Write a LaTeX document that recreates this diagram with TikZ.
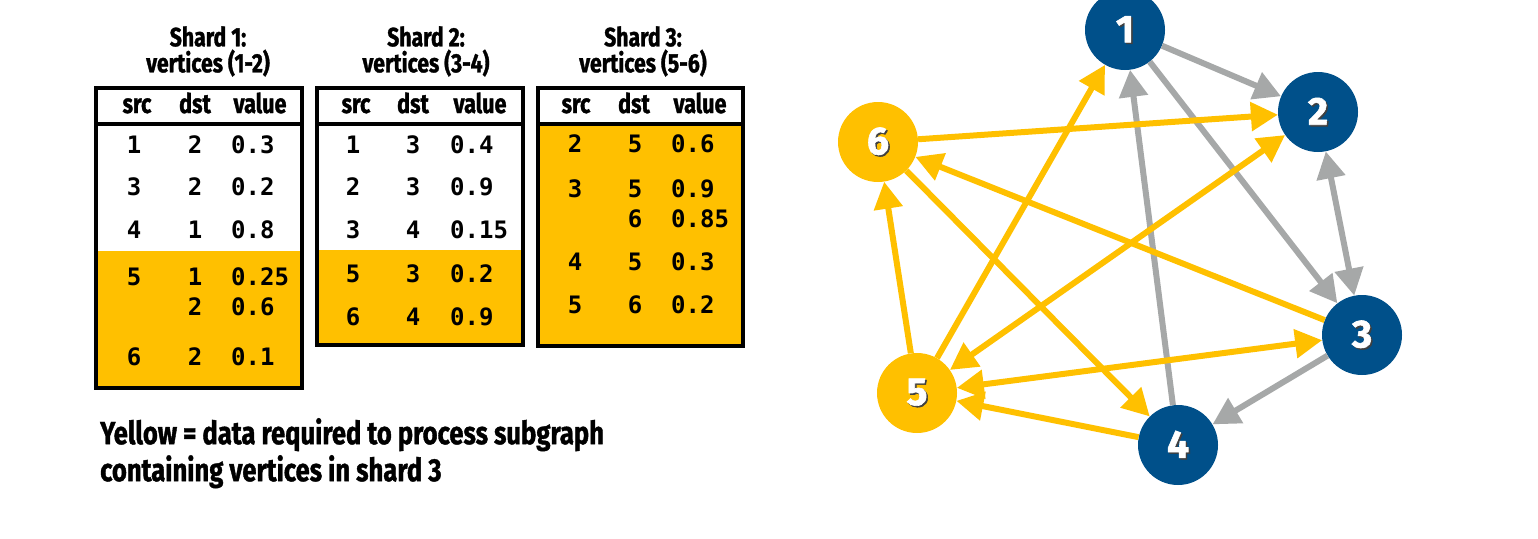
\documentclass[tikz,border=0pt]{standalone}
\usepackage{fontspec}
\setsansfont[FakeStretch=0.8, BoldFeatures={FakeBold=1.2}]{Fira Sans}
\setmonofont{DejaVu Sans Mono}
\newfontfamily\vtxfam[BoldFeatures={FakeBold=1.5}]{Fira Sans}
\usetikzlibrary{arrows.meta}
\definecolor{Vblue}{RGB}{0,80,138}
\definecolor{Vyellow}{RGB}{255,192,0}
\definecolor{Vgray}{RGB}{166,168,168}
% white vertex number with a small drop shadow
\newcommand\shnum[1]{\makebox[0pt][l]{\hspace{1.5pt}\raisebox{-1.5pt}{\textcolor{black!75}{#1}}}#1}

\begin{document}
\begin{tikzpicture}[x=1pt, y=-1pt,
  tbox/.style ={draw=black, line width=4pt},
  ttl/.style  ={anchor=north, inner sep=0, align=center,
                font=\sffamily\bfseries\fontsize{26.5}{26}\selectfont},
  hdr/.style  ={anchor=base, inner sep=0,
                font=\sffamily\bfseries\fontsize{27}{27}\selectfont},
  cell/.style ={anchor=base, inner sep=0,
                font=\ttfamily\bfseries\fontsize{24}{24}\selectfont},
  vcell/.style={cell, anchor=base west},
  vtx/.style  ={circle, minimum size=80pt, inner sep=0,
                text=white, font=\vtxfam\bfseries\fontsize{39}{39}\selectfont},
  bv/.style   ={vtx, fill=Vblue},
  yv/.style   ={vtx, fill=Vyellow},
  garr/.style ={-{Triangle[length=27pt, width=28pt]}, line width=6pt, draw=Vgray},
  yarr/.style ={-{Triangle[length=27pt, width=28pt]}, line width=6pt, draw=Vyellow},
]
\useasboundingbox (0,0) rectangle (1538,538);

%% === Shard 1 ===
\fill[Vyellow] (96,251) rectangle (302,388);
\draw[tbox] (96,88) rectangle (302,388);
\draw[tbox] (96,124) -- (302,124);
\node[ttl] (T1) at (208,26) {Shard 1:\\vertices (1-2)};
\node[hdr] (H1s) at (137,113) {src};
\node[hdr] (H1d) at (195,113) {dst};
\node[hdr] (H1v) at (260,113) {value};
\foreach \y/\s/\d/\v [count=\i] in {153/1/2/0.3, 195/3/2/0.2, 238/4/1/0.8,
                                    285/5/1/0.25, 315//2/0.6, 365/6/2/0.1}{
  \node[cell]  (A\i s) at (134,\y) {\s};
  \node[cell]  (A\i d) at (195,\y) {\d};
  \node[vcell] (A\i v) at (231,\y) {\v};
}

%% === Shard 2 ===
\fill[Vyellow] (317,250) rectangle (523,345);
\draw[tbox] (317,88) rectangle (523,345);
\draw[tbox] (317,124) -- (523,124);
\node[ttl] (T2) at (426,26) {Shard 2:\\vertices (3-4)};
\node[hdr] (H2s) at (356,113) {src};
\node[hdr] (H2d) at (413,113) {dst};
\node[hdr] (H2v) at (480,113) {value};
\foreach \y/\s/\d/\v [count=\i] in {153/1/3/0.4, 195/2/3/0.9, 238/3/4/0.15,
                                    282/5/3/0.2, 325/6/4/0.9}{
  \node[cell]  (B\i s) at (353,\y) {\s};
  \node[cell]  (B\i d) at (413,\y) {\d};
  \node[vcell] (B\i v) at (450,\y) {\v};
}

%% === Shard 3 ===
\fill[Vyellow] (538,124) rectangle (743,346);
\draw[tbox] (538,88) rectangle (743,346);
\draw[tbox] (538,124) -- (743,124);
\node[ttl] (T3) at (643,26) {Shard 3:\\vertices (5-6)};
\node[hdr] (H3s) at (576,113) {src};
\node[hdr] (H3d) at (634,113) {dst};
\node[hdr] (H3v) at (700,113) {value};
\foreach \y/\s/\d/\v [count=\i] in {152/2/5/0.6, 197/3/5/0.9, 227//6/0.85,
                                    270/4/5/0.3, 313/5/6/0.2}{
  \node[cell]  (C\i s) at (575,\y) {\s};
  \node[cell]  (C\i d) at (635,\y) {\d};
  \node[vcell] (C\i v) at (671,\y) {\v};
}

% Leyenda
\node[anchor=north west, inner sep=0, align=left,
      font=\sffamily\bfseries\fontsize{32}{37}\selectfont]
  (cap) at (100,418) {Yellow = data required to process subgraph\\containing vertices in shard 3};

%% === Grafo ===
\node[bv] (v1) at (1125,30)  {\shnum{1}};
\node[bv] (v2) at (1318,112) {\shnum{2}};
\node[bv] (v3) at (1362,335) {\shnum{3}};
\node[bv] (v4) at (1178,445) {\shnum{4}};
\node[yv] (v5) at (917,393)  {\shnum{5}};
\node[yv] (v6) at (878,142)  {\shnum{6}};

\draw[garr] (v1) -- (v2);
\draw[garr] (v1) -- (v3);
\draw[garr] (v4) -- (v1);
\draw[garr] (v3) -- (v4);
\draw[garr, {Triangle[length=27pt, width=28pt]}-{Triangle[length=27pt, width=28pt]}] (v2) -- (v3);

\draw[yarr] (v5) -- (v1);
\draw[yarr] (v6) -- (v2);
\draw[yarr, {Triangle[length=27pt, width=28pt]}-{Triangle[length=27pt, width=28pt]}] (v5) -- (v2);
\draw[yarr, {Triangle[length=27pt, width=28pt]}-{Triangle[length=27pt, width=28pt]}] (v5) -- (v3);
\draw[yarr] (v3) -- (v6);
\draw[yarr] (v6) -- (v4);
\draw[yarr] (v4) -- (v5);
\draw[yarr] (v5) -- (v6);

\end{tikzpicture}
\end{document}
